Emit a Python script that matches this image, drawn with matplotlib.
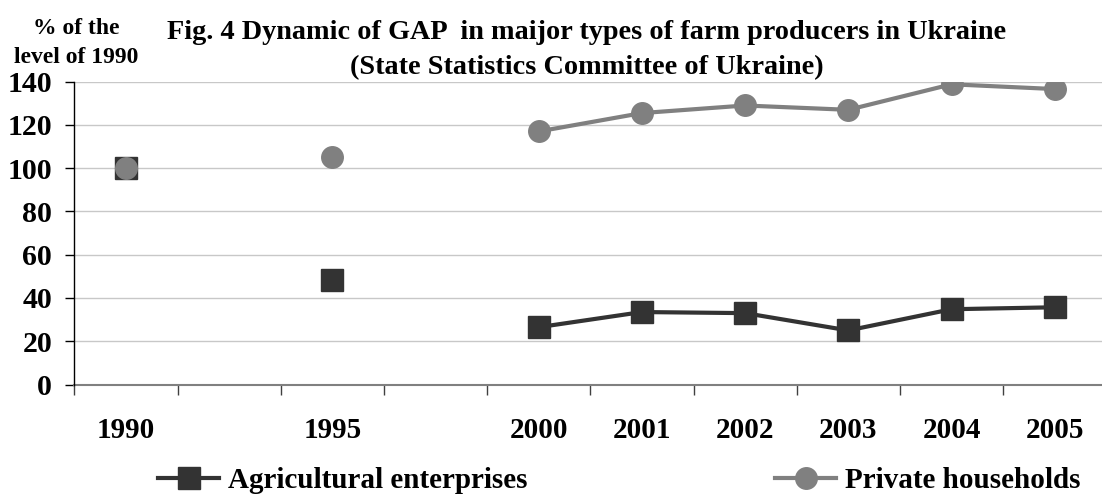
import numpy as np
import matplotlib
matplotlib.use("Agg")
import matplotlib.pyplot as plt
from matplotlib.ticker import FixedLocator, NullFormatter, FixedFormatter

plt.rcParams['font.family'] = ['Liberation Serif', 'DejaVu Serif']
plt.rcParams['font.weight'] = 'bold'

# data (blank categories are the gaps 1991-94, 1996-99)
years = ['1990', '', '1995', '', '2000', '2001', '2002', '2003', '2004', '2005']
agri = [100, np.nan, 48.5, np.nan, 26.5, 33.5, 33.0, 25.0, 34.8, 35.7]
households = [100, np.nan, 105, np.nan, 117, 125.5, 129, 127, 138.8, 136.6]
yticks = [0, 20, 40, 60, 80, 100, 120, 140]

W, H = 1102, 495
fig = plt.figure(figsize=(W / 100, H / 100), dpi=100)
ax = fig.add_axes([74.3 / W, (H - 384.5) / H, 1032 / W, (384.5 - 81.7) / H])

x = np.arange(len(years))
ax.plot(x, agri, color='#333333', lw=3, marker='s', ms=16.5, mec='#333333',
        label='Agricultural enterprises', zorder=3)
ax.plot(x, households, color='#808080', lw=3, marker='o', ms=15.5, mec='#808080',
        label='Private households', zorder=4)

ax.set_xlim(-0.5, len(years) - 0.5)
ax.set_ylim(0, 140)

# category axis: tick marks between categories, labels at centres
ax.xaxis.set_major_locator(FixedLocator(np.arange(len(years) + 1) - 0.5))
ax.xaxis.set_major_formatter(NullFormatter())
ax.xaxis.set_minor_locator(FixedLocator(x))
ax.xaxis.set_minor_formatter(FixedFormatter(years))
ax.tick_params(axis='x', which='major', direction='out', length=7.2, width=1, color='#404040')
ax.tick_params(axis='x', which='minor', length=0, pad=23.5, labelsize=21)

ax.set_yticks(yticks)
ax.tick_params(axis='y', direction='out', length=6.5, width=1, color='black', pad=9.5, labelsize=21.5)

ax.grid(axis='y', color='#c8c8c8', lw=1)
ax.set_axisbelow(True)
for s in ['top', 'right']:
    ax.spines[s].set_visible(False)
ax.spines['left'].set_color('black')
ax.spines['left'].set_linewidth(1)
ax.spines['bottom'].set_color('#808080')
ax.spines['bottom'].set_linewidth(1.5)
ax.spines['bottom'].set_zorder(2)

# title, two lines
fig.text(587 / W, 1 - 39 / H, 'Fig. 4 Dynamic of GAP  in maijor types of farm producers in Ukraine',
         ha='center', va='baseline', fontsize=20.3, fontweight='bold')
fig.text(587 / W, 1 - 74 / H, '(State Statistics Committee of Ukraine)',
         ha='center', va='baseline', fontsize=20.3, fontweight='bold')

# y-axis caption above the axis
fig.text(76 / W, 1 - 34 / H, '% of the', ha='center', va='baseline', fontsize=17, fontweight='bold')
fig.text(76 / W, 1 - 63 / H, 'level of 1990', ha='center', va='baseline', fontsize=17, fontweight='bold')

# legend entries at the two ends
h, l = ax.get_legend_handles_labels()
for hd, lb, x0 in [(h[0], l[0], 158), (h[1], l[1], 775)]:
    leg = fig.legend([hd], [lb], loc='lower left', bbox_to_anchor=(x0 / W, 0.002),
                     frameon=False, borderpad=0, borderaxespad=0, handlelength=2.1,
                     handletextpad=0.3, prop={'size': 21, 'weight': 'bold'})

fig.savefig('out.png', dpi=100)
